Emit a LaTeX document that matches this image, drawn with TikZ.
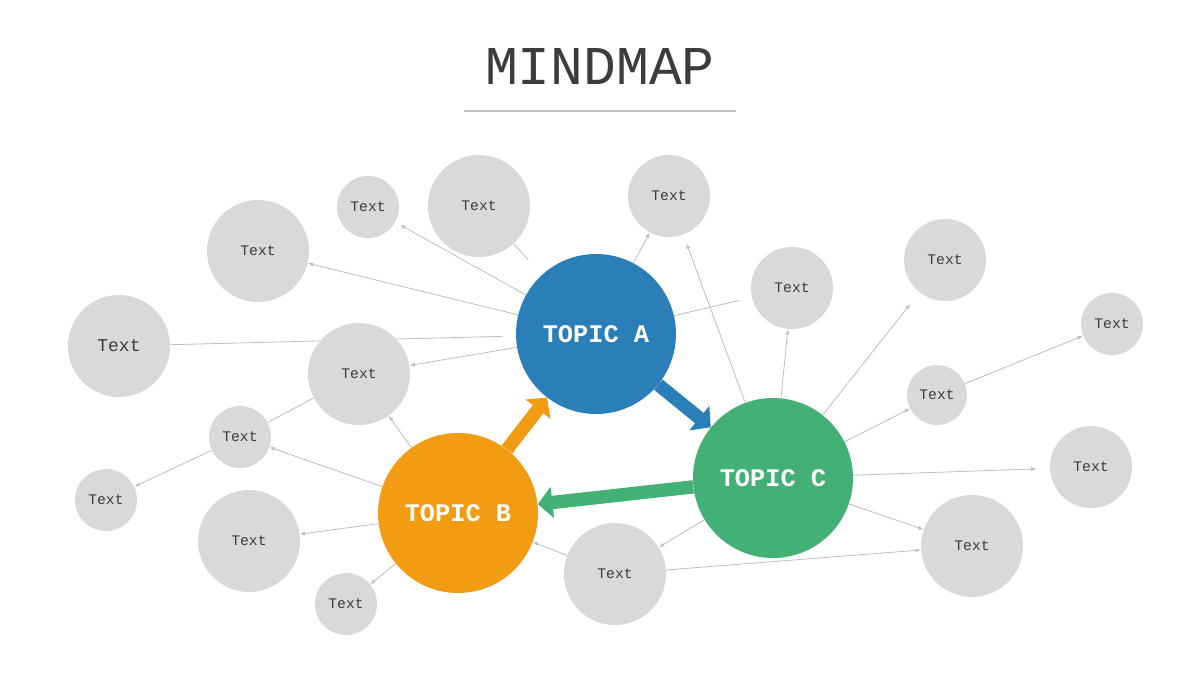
\documentclass[tikz,border=0pt]{standalone}
\usepackage{fontspec}
\setmonofont{Liberation Mono}
\usepackage{tikz}
\usetikzlibrary{arrows.meta,backgrounds}
\definecolor{topicA}{HTML}{2A7FB8}
\definecolor{topicB}{HTML}{F29C14}
\definecolor{topicC}{HTML}{43B076}
\definecolor{bubgray}{HTML}{D9D9D9}
\definecolor{linegray}{HTML}{BDBDBD}
\definecolor{inkgray}{HTML}{3C3C3C}
\tikzset{auto,
  title/.style={text=inkgray,font=\ttfamily\fontsize{41}{48}\selectfont},
  rule/.style={draw=linegray,line width=1.5pt},
  topic/.style={circle,fill=#1,inner sep=0pt,minimum size=120pt,text=white,font=\ttfamily\bfseries\fontsize{19}{22}\selectfont},
  bubble/.style={circle,fill=bubgray,inner sep=0pt,minimum size=#1*1.5pt,text=inkgray,font=\ttfamily\fontsize{11}{13}\selectfont},
  link/.style={draw=linegray,line width=0.6pt,-{Latex[length=4pt,width=3pt]}},
  bare/.style={draw=linegray,line width=0.6pt,-},
  flow/.style={draw=#1,line width=10pt,-{Triangle[length=11pt,width=23pt]}}}

\begin{document}
\begin{tikzpicture}[x=0.75pt,y=-0.75pt]
    \useasboundingbox (0,0) rectangle (1200,675);
    \node[title] (head) at (600,66) {MINDMAP};
    \draw[rule] (464,111) -- (736,111);
    \node[topic=topicA] (A) at (596,334) {TOPIC A};
    \node[topic=topicB] (B) at (458,513) {TOPIC B};
    \node[topic=topicC] (C) at (773,478) {TOPIC C};
    % outer bubbles
    \node[bubble=31] (t1) at (368,207) {Text};
    \node[bubble=51] (t2) at (479,206) {Text};
    \node[bubble=41] (t3) at (669,196) {Text};
    \node[bubble=51] (t4) at (258,251) {Text};
    \node[bubble=51,font=\ttfamily\fontsize{13.5}{16}\selectfont] (t5) at (119,346) {Text};
    \node[bubble=51] (t6) at (359,374) {Text};
    \node[bubble=41] (t7) at (792,288) {Text};
    \node[bubble=41] (t8) at (945,260) {Text};
    \node[bubble=31] (t9) at (1112,324) {Text};
    \node[bubble=30] (t10) at (937,395) {Text};
    \node[bubble=41] (t11) at (1091,467) {Text};
    \node[bubble=51] (t12) at (972,546) {Text};
    \node[bubble=51] (t13) at (615,574) {Text};
    \node[bubble=31] (t14) at (240,437) {Text};
    \node[bubble=31] (t15) at (106,500) {Text};
    \node[bubble=51] (t16) at (249,541) {Text};
    \node[bubble=31] (t17) at (346,604) {Text};
    \begin{pgfonlayer}{background}
    \path
    (A) edge[link,shorten >=4pt] (t1)
    (t2) edge[bare,shorten >=15pt] (A)
    (A) edge[link] (t3)
    (A) edge[link] (t4)
    (t5) edge[bare,shorten >=10pt] (A)
    (A) edge[link] (t6)
    (t7) edge[bare,shorten <=10pt] (A)
    (C) edge[link,shorten >=7pt] (t3)
    (C) edge[link] (t7)
    (C) edge[link,shorten >=11pt] (t8)
    (C) edge[link] (t10)
    (t10) edge[link] (t9)
    (C) edge[link,shorten >=10pt] (t11)
    (C) edge[link] (t12)
    (C) edge[link] (t13)
    (t13) edge[link] (t12)
    (t13) edge[link] (B)
    (B) edge[link] (t6)
    (B) edge[link] (t14)
    (t14) edge[bare] (t6)
    (t14) edge[link] (t15)
    (B) edge[link] (t16)
    (B) edge[link] (t17)
    ;
    \end{pgfonlayer}
    \path
    (A) edge[flow=topicA] (C)
    (B) edge[flow=topicB] (A)
    (C) edge[flow=topicC] (B)
    ;
\end{tikzpicture}
\end{document}
